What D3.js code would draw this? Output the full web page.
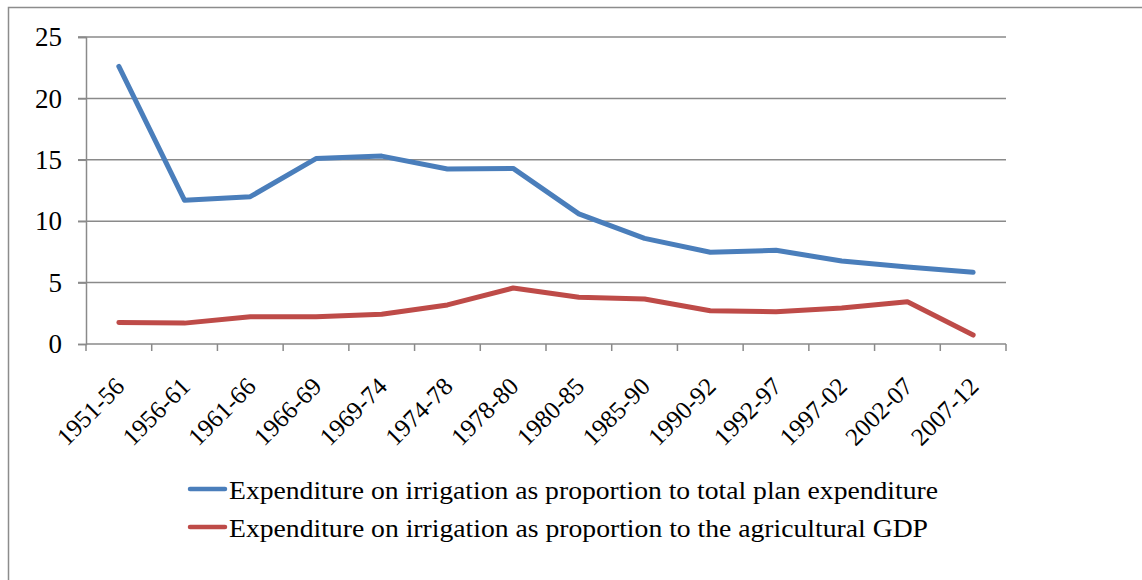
<!DOCTYPE html>
<html>
<head>
<meta charset="utf-8">
<script src="https://cdn.jsdelivr.net/npm/d3@7"></script>
<style>
  body { margin: 0; background: #fff; }
  text { font-family: "Liberation Serif", "Times New Roman", serif; fill: #000; }
</style>
</head>
<body>
<div id="chart"></div>
<script>
// plan periods and the two series (per cent)
var periods = ["1951-56", "1956-61", "1961-66", "1966-69", "1969-74", "1974-78", "1978-80",
               "1980-85", "1985-90", "1990-92", "1992-97", "1997-02", "2002-07", "2007-12"];
var totalPlan = [22.6, 11.7, 12.0, 15.1, 15.3, 14.25, 14.3, 10.6, 8.6, 7.47, 7.63, 6.76, 6.27, 5.84];
var agriGDP = [1.75, 1.7, 2.22, 2.22, 2.42, 3.18, 4.56, 3.8, 3.66, 2.71, 2.63, 2.93, 3.44, 0.73];
var yTicks = [0, 5, 10, 15, 20, 25];
var seriesNames = ["Expenditure on irrigation as proportion to total plan expenditure",
                   "Expenditure on irrigation as proportion to the agricultural GDP"];
var colors = ["#4a7ebb", "#be4b48"];

(function() {
var width = 1142, height = 580;
var pLeft = 86, pRight = 1006, pTop = 37, pBottom = 344;
var legendWidths = [709, 699];

var svg = d3.select("#chart").append("svg")
    .attr("width", width)
    .attr("height", height);

// outer frame
svg.append("rect")
    .attr("x", 8.5).attr("y", 7.5)
    .attr("width", 1150).attr("height", 600)
    .attr("fill", "none")
    .attr("stroke", "#8c8c8c")
    .attr("stroke-width", 1.5);

var x = d3.scaleBand().domain(periods).range([pLeft, pRight]);
var y = d3.scaleLinear().domain([0, 25]).range([pBottom, pTop]);

// gridlines
svg.append("g").selectAll("line")
    .data(yTicks.filter(function(d) { return d > 0; }))
    .enter().append("line")
    .attr("x1", pLeft - 8).attr("x2", pRight)
    .attr("y1", function(d) { return y(d); })
    .attr("y2", function(d) { return y(d); })
    .attr("stroke", "#8a8a8a")
    .attr("stroke-width", 1.5);

// y axis
var yAxis = svg.append("g")
    .attr("transform", "translate(" + pLeft + ",0)")
    .call(d3.axisLeft(y).tickValues(yTicks).tickSize(8).tickPadding(16).tickFormat(d3.format("d")));
yAxis.select(".domain").attr("stroke", "#8a8a8a").attr("stroke-width", 1.5);
yAxis.selectAll(".tick line").attr("stroke", "#8a8a8a").attr("stroke-width", 1.5);
yAxis.selectAll("text").style("font-size", "27px").attr("fill", "#000")
    .style("font-family", "'Liberation Serif', serif");

// x axis: baseline with ticks at band boundaries
var xg = svg.append("g");
xg.append("line")
    .attr("x1", pLeft).attr("x2", pRight)
    .attr("y1", pBottom).attr("y2", pBottom)
    .attr("stroke", "#8a8a8a").attr("stroke-width", 1.5);
xg.selectAll(".tk")
    .data(periods.concat(["end"]))
    .enter().append("line")
    .attr("class", "tk")
    .attr("x1", function(d, i) { return pLeft + i * x.bandwidth(); })
    .attr("x2", function(d, i) { return pLeft + i * x.bandwidth(); })
    .attr("y1", pBottom).attr("y2", pBottom + 7)
    .attr("stroke", "#8a8a8a").attr("stroke-width", 1.5);
xg.selectAll(".lbl")
    .data(periods)
    .enter().append("text")
    .attr("class", "lbl")
    .attr("text-anchor", "end")
    .style("font-size", "25px")
    .attr("transform", function(d) {
        return "translate(" + (x(d) + x.bandwidth() / 2 + 7) + "," + (pBottom + 44) + ") rotate(-45)";
    })
    .text(function(d) { return d; });

// lines
var line = d3.line()
    .x(function(d, i) { return x(periods[i]) + x.bandwidth() / 2; })
    .y(function(d) { return y(d); });

[totalPlan, agriGDP].forEach(function(s, i) {
    svg.append("path")
        .datum(s)
        .attr("fill", "none")
        .attr("stroke", colors[i])
        .attr("stroke-width", 5)
        .attr("stroke-linejoin", "round")
        .attr("stroke-linecap", "round")
        .attr("d", line);
});

// legend
var lg = svg.append("g");
seriesNames.forEach(function(name, i) {
    var ly = 489 + i * 38;
    lg.append("line")
        .attr("x1", 190).attr("x2", 225)
        .attr("y1", ly).attr("y2", ly)
        .attr("stroke", colors[i])
        .attr("stroke-width", 4.5)
        .attr("stroke-linecap", "round");
    lg.append("text")
        .attr("x", 229).attr("y", ly + 10)
        .style("font-size", "25px")
        .attr("textLength", legendWidths[i])
        .attr("lengthAdjust", "spacingAndGlyphs")
        .text(name);
});
})();
</script>
</body>
</html>
